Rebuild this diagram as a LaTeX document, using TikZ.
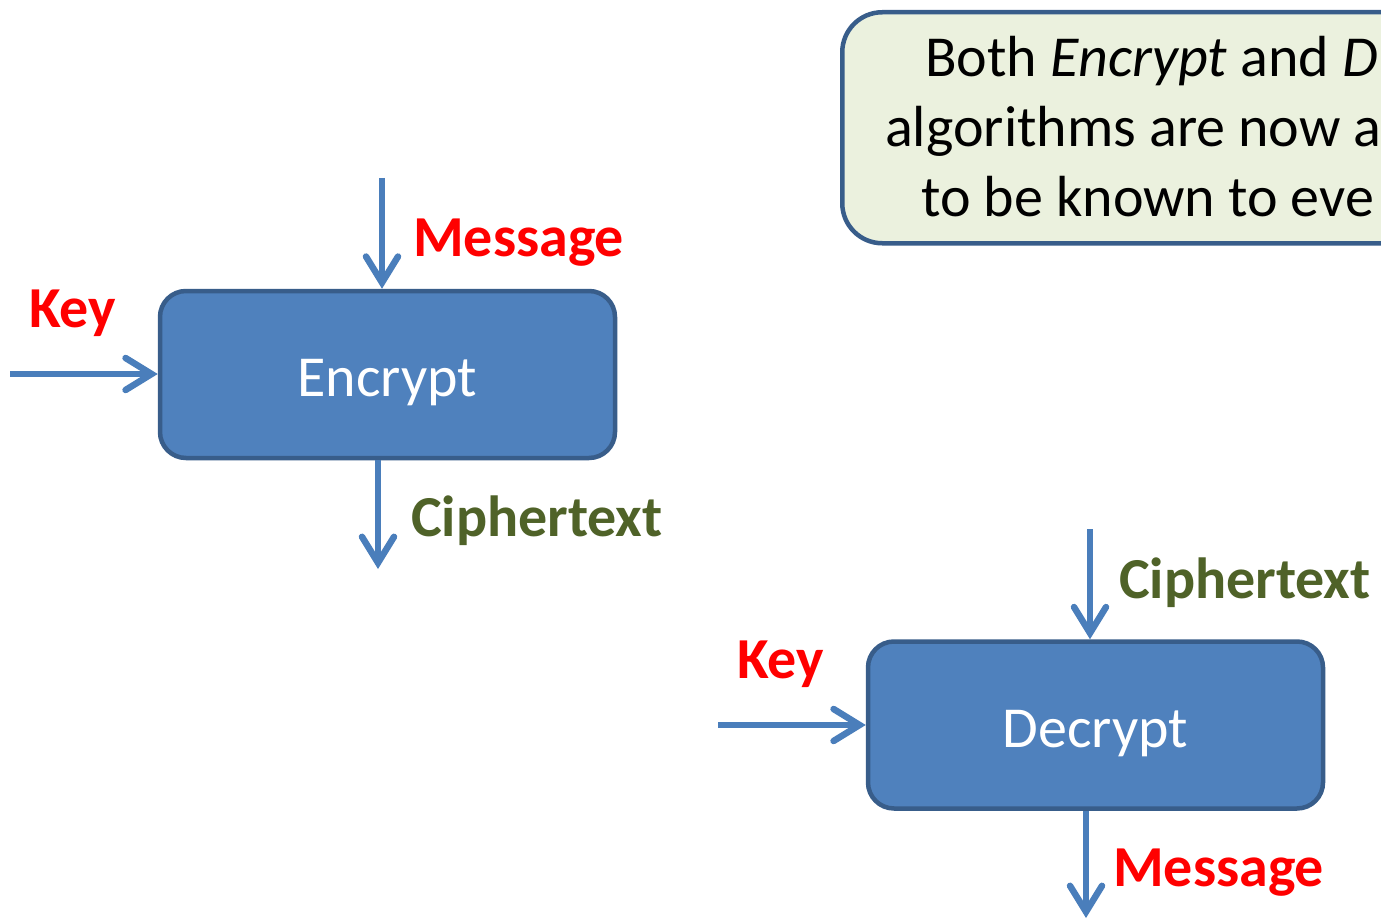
\documentclass[tikz,border=0pt]{standalone}
\usepackage{fontspec}
\setmainfont{Carlito}
\usetikzlibrary{arrows.meta}
\definecolor{boxfill}{HTML}{4F81BD}
\definecolor{boxline}{HTML}{385D8A}
\definecolor{arrowc}{HTML}{4A7EBB}
\definecolor{notefill}{HTML}{EBF1DE}
\definecolor{redlbl}{HTML}{FF0000}
\definecolor{greenlbl}{HTML}{4F6228}
\tikzset{
  procbox/.style={draw=boxline, fill=boxfill, line width=4.5pt, rounded corners=26pt,
    minimum width=455pt, minimum height=167pt, inner sep=0pt, text=white,
    text height=44pt, text depth=0pt,
    font=\fontsize{58}{70}\selectfont},
  flow/.style={draw=arrowc, line width=6.5pt, -{Straight Barb[length=26pt,width=32pt,line cap=round]}},
  lbl/.style={inner sep=0pt, anchor=base west, font=\fontsize{58}{70}\selectfont\bfseries},
  redtxt/.style={lbl, text=redlbl},
  greentxt/.style={lbl, text=greenlbl},
  notetxt/.style={inner sep=0pt, anchor=base west, font=\fontsize{58}{70}\selectfont, text=black},
}
\begin{document}
\begin{tikzpicture}[x=1pt,y=-1pt]
\useasboundingbox (0,0) rectangle (1381,920);
\clip (0,0) rectangle (1381,920);
\fill[white] (0,0) rectangle (1381,920);

% callout
\node[draw=boxline, fill=notefill, line width=4.5pt, rounded corners=40pt, inner sep=0pt,
  minimum width=760pt, minimum height=231pt, anchor=north west] (note) at (840,10) {};
\node[notetxt] (n1) at (925,77) {Both \textit{Encrypt} and \textit{D}};
\node[notetxt] (n2) at (885,147) {algorithms are now a};
\node[notetxt] (n3) at (921,217) {to be known to eve};

% encrypt
\node[procbox] (enc) at (387.5,374.5) {Encrypt};
\coordinate (encmsg) at (382,178);
\coordinate (enckey) at (10,374);
\coordinate (encout) at (378,569);
\draw[flow] (encmsg) -- (encmsg |- enc.north);
\draw[flow] (enckey) -- (enc.west |- enckey);
\draw[flow] (encout |- enc.south) -- (encout);
\node[redtxt] (lmsg1) at (413,256) {Message};
\node[redtxt] (lkey1) at (29,327) {Key};
\node[greentxt] (lct1) at (411,536) {Ciphertext};

% decrypt
\node[procbox] (dec) at (1095.5,725) {Decrypt};
\coordinate (decct) at (1090,529);
\coordinate (deckey) at (718,725);
\coordinate (decout) at (1086,918);
\draw[flow] (decct) -- (decct |- dec.north);
\draw[flow] (deckey) -- (dec.west |- deckey);
\draw[flow] (decout |- dec.south) -- (decout);
\node[greentxt] (lct2) at (1119,598) {Ciphertext};
\node[redtxt] (lkey2) at (737,678) {Key};
\node[redtxt] (lmsg2) at (1113,886) {Message};
\end{tikzpicture}
\end{document}
